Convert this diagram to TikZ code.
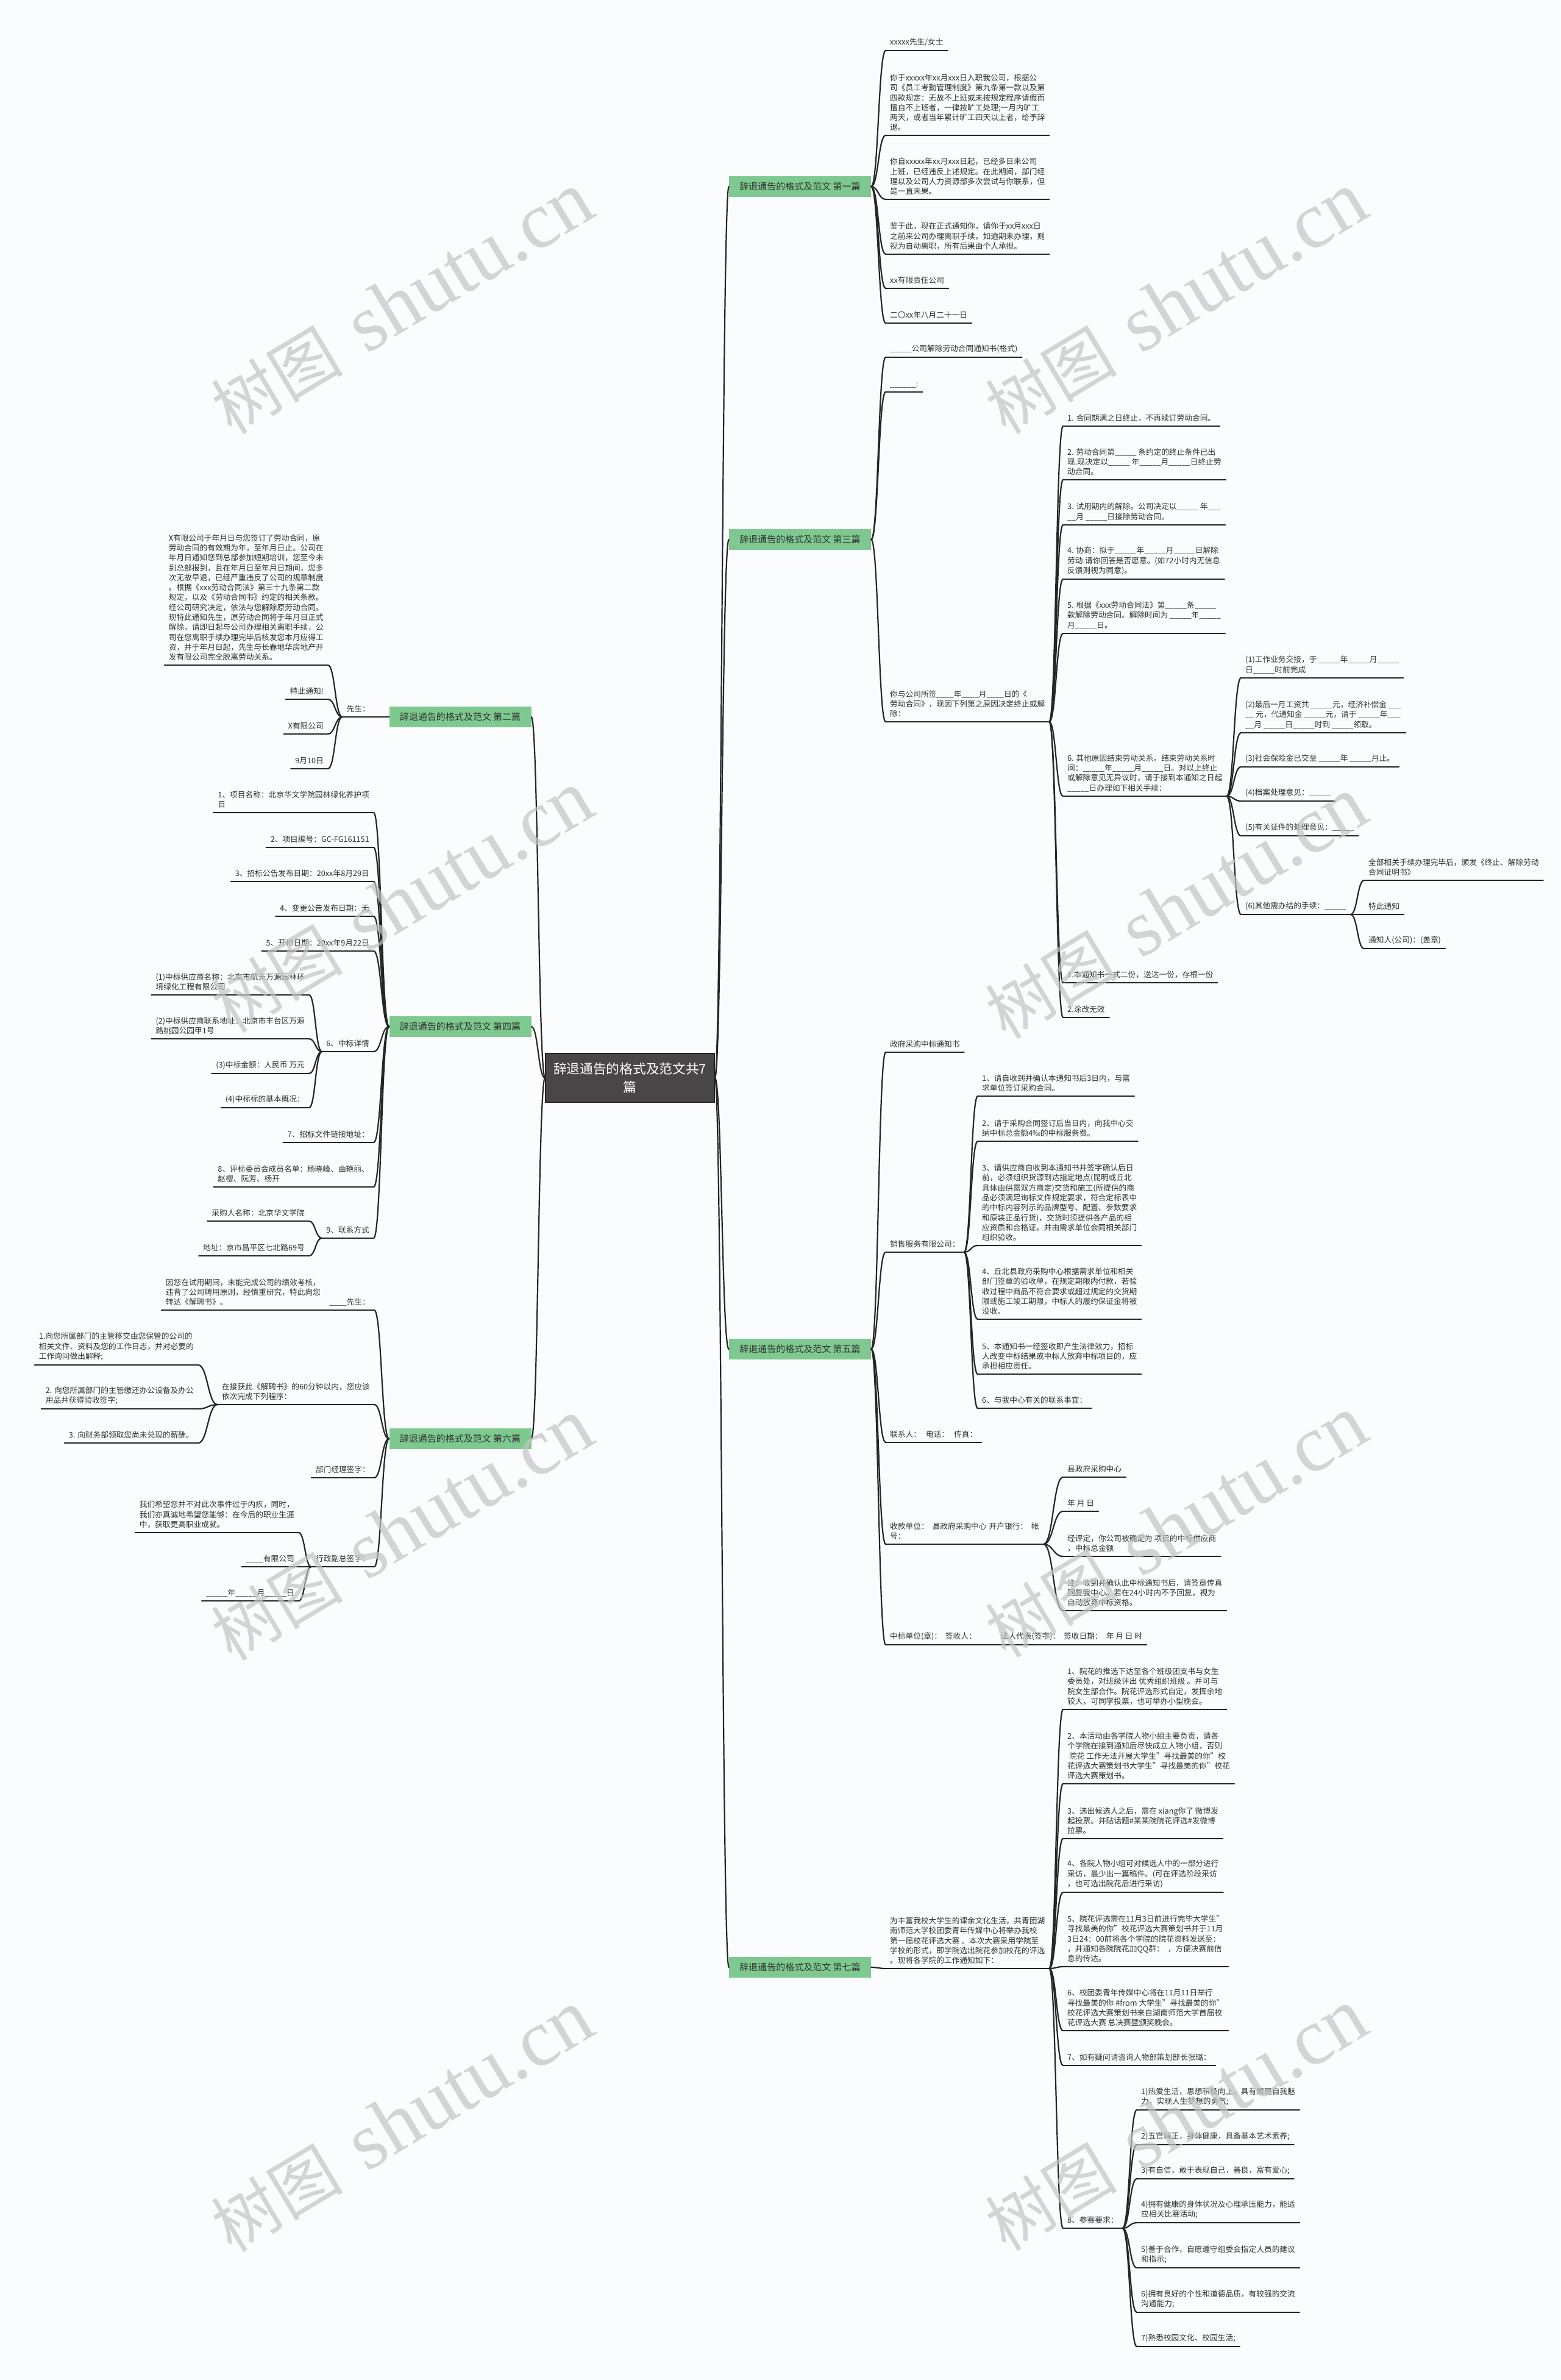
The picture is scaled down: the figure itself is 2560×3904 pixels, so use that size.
\documentclass[tikz,border=0pt]{standalone}
\usepackage{fontspec}
\setmainfont{Noto Sans CJK SC}
\newfontfamily\wmlat{Liberation Serif}
\usetikzlibrary{calc}
\definecolor{bgc}{RGB}{250,252,253}
\definecolor{lnc}{RGB}{38,38,38}
\definecolor{txc}{RGB}{48,48,48}
\definecolor{rootc}{RGB}{74,70,71}
\definecolor{grn}{RGB}{126,201,143}
\definecolor{wmc}{RGB}{196,196,196}
\tikzset{
  ln/.style={draw=lnc, line width=2.2pt, line cap=round},
  lf/.style={inner xsep=7pt, inner ysep=7pt, align=left, text=txc, font=\fontsize{12.7pt}{16.3pt}\selectfont},
  sec/.style={fill=grn, draw=none, minimum width=233pt, minimum height=34pt, inner sep=0pt, text=txc, font=\fontsize{15pt}{18pt}\selectfont},
  rootn/.style={fill=rootc, draw=black!85, line width=1.5pt, minimum width=277pt, minimum height=80pt, align=center, text=white, font=\fontsize{21.7pt}{30pt}\selectfont},
  wm/.style={text=wmc, opacity=0.7, rotate=31, inner sep=0pt}
}
\newcommand\conn[2]{\draw[ln] (#1) .. controls ($(#1)!.5!(#1-|#2)$) and ($(#2)!.5!(#2-|#1)$) .. (#2);}
\newcommand\rleaf[4]{\node[lf,anchor=south west] (#1) at (#2) {#4};\draw[ln] (#1.south west)--(#1.south east);\conn{#3}{#1.south west}}
\newcommand\lleaf[4]{\node[lf,anchor=south east] (#1) at (#2) {#4};\draw[ln] (#1.south west)--(#1.south east);\conn{#3}{#1.south east}}
\newcommand\wmtext{{\fontsize{108pt}{120pt}\selectfont 树图}\hspace{42pt}{\wmlat\fontsize{132pt}{140pt}\selectfont shutu.cn}}
\begin{document}
\begin{tikzpicture}[x=1pt,y=-1pt]
\fill[bgc] (0,0) rectangle (2560,3904);
\path[use as bounding box] (0,0) rectangle (2560,3904);

% root and sections
\node[rootn] (root) at (1033.5,1768) {辞退通告的格式及范文共7\\篇};
\node[sec] (s1) at (1312.5,306) {辞退通告的格式及范文 第一篇};
\node[sec] (s3) at (1312.5,885) {辞退通告的格式及范文 第三篇};
\node[sec] (s5) at (1312.5,2213) {辞退通告的格式及范文 第五篇};
\node[sec] (s7) at (1312.5,3227) {辞退通告的格式及范文 第七篇};
\node[sec] (s2) at (755,1176) {辞退通告的格式及范文 第二篇};
\node[sec] (s4) at (755,1684) {辞退通告的格式及范文 第四篇};
\node[sec] (s6) at (755,2360) {辞退通告的格式及范文 第六篇};
\conn{root.east}{s1.west}
\conn{root.east}{s3.west}
\conn{root.east}{s5.west}
\conn{root.east}{s7.west}
\conn{root.west}{s2.east}
\conn{root.west}{s4.east}
\conn{root.west}{s6.east}

% ---------- section 1
\rleaf{a1}{1453,83}{s1.east}{xxxxx先生/女士}
\rleaf{a2}{1453,222}{s1.east}{你于xxxxx年xx月xxx日入职我公司，根据公\\司《员工考勤管理制度》第九条第一款以及第\\四款规定：无故不上班或未按规定程序请假而\\擅自不上班者，一律按旷工处理;一月内旷工\\两天，或者当年累计旷工四天以上者，给予辞\\退。}
\rleaf{a3}{1453,327}{s1.east}{你自xxxxx年xx月xxx日起，已经多日未公司\\上班，已经违反上述规定。在此期间，部门经\\理以及公司人力资源部多次尝试与你联系，但\\是一直未果。}
\rleaf{a4}{1453,417}{s1.east}{鉴于此，现在正式通知你，请你于xx月xxx日\\之前来公司办理离职手续，如逾期未办理，则\\视为自动离职，所有后果由个人承担。}
\rleaf{a5}{1453,473}{s1.east}{xx有限责任公司}
\rleaf{a6}{1453,530}{s1.east}{二〇xx年八月二十一日}

% ---------- section 3
\rleaf{c1}{1453,586}{s3.east}{\_\_\_\_\_公司解除劳动合同通知书(格式)}
\rleaf{c2}{1453,643}{s3.east}{\_\_\_\_\_\_:}
\rleaf{c3}{1453,1184}{s3.east}{你与公司所签\_\_\_\_年\_\_\_\_月\_\_\_\_日的《\\劳动合同》，现因下列第之原因决定终止或解\\除：}
\rleaf{c31}{1744,699}{c3.south east}{1. 合同期满之日终止，不再续订劳动合同。}
\rleaf{c32}{1744,787}{c3.south east}{2. 劳动合同第\_\_\_\_\_ 条约定的终止条件已出\\现.现决定以\_\_\_\_\_ 年\_\_\_\_\_月\_\_\_\_\_日终止劳\\动合同。}
\rleaf{c33}{1744,861}{c3.south east}{3. 试用期内的解除。公司决定以\_\_\_\_\_ 年\_\_\_\\\_\_月 \_\_\_\_\_日接除劳动合同。}
\rleaf{c34}{1744,950}{c3.south east}{4. 协商：拟于\_\_\_\_\_年\_\_\_\_\_月\_\_\_\_\_日解除\\劳动.请你回答是否愿意。(如72小时内无信息\\反馈则视为同意)。}
\rleaf{c35}{1744,1039}{c3.south east}{5. 根据《xxx劳动合同法》第\_\_\_\_\_条\_\_\_\_\_\\款解除劳动合同。解除时间为 \_\_\_\_\_年\_\_\_\_\_\\月\_\_\_\_\_日。}
\rleaf{c36}{1744,1306}{c3.south east}{6. 其他原因结束劳动关系。结束劳动关系时\\间：\_\_\_\_\_年\_\_\_\_\_月\_\_\_\_\_日。对以上终止\\或解除意见无异议时，请于接到本通知之日起\\\_\_\_\_\_日办理如下相关手续：}
\rleaf{c37}{1744,1612}{c3.south east}{1.本通知书一式二份，送达一份，存根一份}
\rleaf{c38}{1744,1669}{c3.south east}{2.涂改无效}
\rleaf{c361}{2036,1112}{c36.south east}{(1)工作业务交接，于 \_\_\_\_\_年\_\_\_\_\_月\_\_\_\_\_\\日\_\_\_\_\_时前完成}
\rleaf{c362}{2036,1202}{c36.south east}{(2)最后一月工资共 \_\_\_\_\_元，经济补偿金 \_\_\_\\\_\_ 元，代通知金 \_\_\_\_\_元，请于 \_\_\_\_\_年\_\_\_\\\_\_月 \_\_\_\_\_日\_\_\_\_\_时到 \_\_\_\_\_领取。}
\rleaf{c363}{2036,1258}{c36.south east}{(3)社会保险金已交至 \_\_\_\_\_年 \_\_\_\_\_月止。}
\rleaf{c364}{2036,1314}{c36.south east}{(4)档案处理意见：\_\_\_\_\_}
\rleaf{c365}{2036,1371}{c36.south east}{(5)有关证件的处理意见：\_\_\_\_\_}
\rleaf{c366}{2036,1500}{c36.south east}{(6)其他需办结的手续：\_\_\_\_\_}
\rleaf{c3661}{2238,1444}{c366.south east}{全部相关手续办理完毕后，颁发《终止、解除劳动\\合同证明书》}
\rleaf{c3662}{2238,1500}{c366.south east}{特此通知}
\rleaf{c3663}{2238,1556}{c366.south east}{通知人(公司)：(盖章)}

% ---------- section 5
\rleaf{e1}{1453,1726}{s5.east}{政府采购中标通知书}
\rleaf{e2}{1453,2054}{s5.east}{销售服务有限公司：}
\rleaf{e21}{1604,1798}{e2.south east}{1、请自收到并确认本通知书后3日内，与需\\求单位签订采购合同。}
\rleaf{e22}{1604,1872}{e2.south east}{2、请于采购合同签订后当日内，向我中心交\\纳中标总金额4‰的中标服务费。}
\rleaf{e23}{1604,2043}{e2.south east}{3、请供应商自收到本通知书并签字确认后日\\前，必须组织货源到达指定地点(昆明或丘北\\具体由供需双方商定)交货和施工(所提供的商\\品必须满足询标文件规定要求，符合定标表中\\的中标内容列示的品牌型号、配置、参数要求\\和原装正品行货)，交货时须提供各产品的相\\应资质和合格证。并由需求单位会同相关部门\\组织验收。}
\rleaf{e24}{1604,2164}{e2.south east}{4、丘北县政府采购中心根据需求单位和相关\\部门签章的验收单，在规定期限内付款，若验\\收过程中商品不符合要求或超过规定的交货期\\限或施工竣工期限，中标人的履约保证金将被\\没收。}
\rleaf{e25}{1604,2254}{e2.south east}{5、本通知书一经签收即产生法律效力，招标\\人改变中标结果或中标人放弃中标项目的，应\\承担相应责任。}
\rleaf{e26}{1604,2310}{e2.south east}{6、与我中心有关的联系事宜：}
\rleaf{e3}{1453,2366}{s5.east}{联系人：\hspace{8pt}电话：\hspace{8pt}传真：}
\rleaf{e4}{1453,2533}{s5.east}{收款单位：\hspace{6pt}县政府采购中心\hspace{4pt}开户银行：\hspace{6pt}帐\\号：}
\rleaf{e41}{1744,2423}{e4.south east}{县政府采购中心}
\rleaf{e42}{1744,2479}{e4.south east}{年 月 日}
\rleaf{e43}{1744,2553}{e4.south east}{经评定，你公司被确定为 项目的中标供应商\\，中标总金额}
\rleaf{e44}{1744,2642}{e4.south east}{注：收到并确认此中标通知书后，请签章传真\\回复我中心。若在24小时内不予回复，视为\\自动放弃中标资格。}
\rleaf{e5}{1453,2698}{s5.east}{中标单位(章)：\hspace{6pt}签收人：\hspace{40pt}法人代表(签字)：\hspace{6pt}签收日期：\hspace{6pt}年 月 日 时}

% ---------- section 7
\rleaf{g0}{1453,3229}{s7.east}{为丰富我校大学生的课余文化生活，共青团湖\\南师范大学校团委青年传媒中心将举办我校\\第一届校花评选大赛 。本次大赛采用学院至\\学校的形式，即学院选出院花参加校花的评选\\。现将各学院的工作通知如下：}
\rleaf{g1}{1744,2804}{g0.south east}{1、院花的推选下达至各个班级团支书与女生\\委员处，对班级评出 优秀组织班级 。并可与\\院女生部合作。院花评选形式自定，发挥余地\\较大，可同学投票，也可举办小型晚会。}
\rleaf{g2}{1744,2926}{g0.south east}{2、本活动由各学院人物小组主要负责，请各\\个学院在接到通知后尽快成立人物小组，否则\\\hspace*{3pt}院花 工作无法开展大学生"寻找最美的你"校\\花评选大赛策划书大学生"寻找最美的你"校花\\评选大赛策划书。}
\rleaf{g3}{1744,3016}{g0.south east}{3、选出候选人之后，需在 xiang你了 微博发\\起投票。并贴话题\#某某院院花评选\#发微博\\拉票。}
\rleaf{g4}{1744,3104}{g0.south east}{4、各院人物小组可对候选人中的一部分进行\\采访，最少出一篇稿件。(可在评选阶段采访\\，也可选出院花后进行采访)}
\rleaf{g5}{1744,3226}{g0.south east}{5、院花评选需在11月3日前进行完毕大学生"\\寻找最美的你"校花评选大赛策划书并于11月\\3日24：00前将各个学院的院花资料发送至：\\，并通知各院院花加QQ群：\hspace{6pt}，方便决赛前信\\息的传达。}
\rleaf{g6}{1744,3331}{g0.south east}{6、校团委青年传媒中心将在11月11日举行\\寻找最美的你 \#from 大学生"寻找最美的你"\\校花评选大赛策划书来自湖南师范大学首届校\\花评选大赛 总决赛暨颁奖晚会。}
\rleaf{g7}{1744,3388}{g0.south east}{7、如有疑问请咨询人物部策划部长张璐：}
\rleaf{g8}{1744,3655}{g0.south east}{8、参赛要求：}
\rleaf{g81}{1865,3461}{g8.south east}{1)热爱生活，思想积极向上，具有展现自我魅\\力，实现人生梦想的勇气;}
\rleaf{g82}{1865,3518}{g8.south east}{2)五官端正，身体健康，具备基本艺术素养;}
\rleaf{g83}{1865,3574}{g8.south east}{3)有自信，敢于表现自己，善良，富有爱心;}
\rleaf{g84}{1865,3646}{g8.south east}{4)拥有健康的身体状况及心理承压能力，能适\\应相关比赛活动;}
\rleaf{g85}{1865,3720}{g8.south east}{5)善于合作，自愿遵守组委会指定人员的建议\\和指示;}
\rleaf{g86}{1865,3793}{g8.south east}{6)拥有良好的个性和道德品质，有较强的交流\\沟通能力;}
\rleaf{g87}{1865,3849}{g8.south east}{7)熟悉校园文化、校园生活;}

% ---------- section 2 (left)
\lleaf{b0}{638,1176}{s2.west}{先生：\kern24pt}
\lleaf{b1}{538,1091}{b0.south west}{X有限公司于年月日与您签订了劳动合同，原\\劳动合同的有效期为年，至年月日止。公司在\\年月日通知您到总部参加短期培训，您至今未\\到总部报到，且在年月日至年月日期间，您多\\次无故早退，已经严重违反了公司的规章制度\\。根据《xxx劳动合同法》第三十九条第二款\\规定，以及《劳动合同书》约定的相关条款。\\经公司研究决定，依法与您解除原劳动合同。\\现特此通知先生，原劳动合同将于年月日正式\\解除，请即日起与公司办理相关离职手续，公\\司在您离职手续办理完毕后核发您本月应得工\\资，并于年月日起，先生与长春地华房地产开\\发有限公司完全脱离劳动关系。}
\lleaf{b2}{538,1147}{b0.south west}{特此通知!}
\lleaf{b3}{538,1204}{b0.south west}{X有限公司}
\lleaf{b4}{538,1261}{b0.south west}{9月10日}

% ---------- section 4 (left)
\lleaf{d1}{613,1333}{s4.west}{1、项目名称：北京华文学院园林绿化养护项\\目}
\lleaf{d2}{613,1390}{s4.west}{2、项目编号：GC-FG161151}
\lleaf{d3}{613,1446}{s4.west}{3、招标公告发布日期：20xx年8月29日}
\lleaf{d4}{613,1503}{s4.west}{4、变更公告发布日期：无}
\lleaf{d5}{613,1560}{s4.west}{5、开标日期：20xx年9月22日}
\lleaf{d6}{613,1725}{s4.west}{6、中标详情}
\lleaf{d61}{507,1632}{d6.south west}{(1)中标供应商名称：北京市航天万源园林环\\境绿化工程有限公司}
\lleaf{d62}{507,1704}{d6.south west}{(2)中标供应商联系地址：北京市丰台区万源\\路桃园公园甲1号}
\lleaf{d63}{507,1761}{d6.south west}{(3)中标金额：人民币 万元}
\lleaf{d64}{507,1817}{d6.south west}{(4)中标标的基本概况：}
\lleaf{d7}{613,1874}{s4.west}{7、招标文件链接地址：}
\lleaf{d8}{613,1947}{s4.west}{8、评标委员会成员名单：杨晓峰、曲艳丽、\\赵樱、阮芳、杨开}
\lleaf{d9}{613,2031}{s4.west}{9、联系方式}
\lleaf{d91}{507,2003}{d9.south west}{采购人名称：北京华文学院}
\lleaf{d92}{507,2060}{d9.south west}{地址：京市昌平区七北路69号}

% ---------- section 6 (left)
\lleaf{f1}{614,2149}{s6.west}{\_\_\_\_先生：}
\lleaf{f1a}{f1.south west}{f1.south west}{因您在试用期间，未能完成公司的绩效考核，\\违背了公司聘用原则，经慎重研究，特此向您\\转达《解聘书》。}
\lleaf{f2}{614,2304}{s6.west}{在接获此《解聘书》的60分钟以内，您应该\\依次完成下列程序：}
\lleaf{f21}{325,2239}{f2.south west}{1.向您所属部门的主管移交由您保管的公司的\\相关文件、资料及您的工作日志，并对必要的\\工作询问做出解释;}
\lleaf{f22}{325,2311}{f2.south west}{2. 向您所属部门的主管缴还办公设备及办公\\用品并获得验收签字;}
\lleaf{f23}{325,2367}{f2.south west}{3. 向财务部领取您尚未兑现的薪酬。}
\lleaf{f3}{614,2424}{s6.west}{部门经理签字：}
\lleaf{f4}{614,2570}{s6.west}{行政副总签字：}
\lleaf{f41}{490,2514}{f4.south west}{我们希望您并不对此次事件过于内疚，同时，\\我们亦真诚地希望您能够：在今后的职业生涯\\中，获取更高职业成就。}
\lleaf{f42}{490,2570}{f4.south west}{\_\_\_\_有限公司}
\lleaf{f43}{490,2626}{f4.south west}{\_\_\_\_\_年\_\_\_\_\_月\_\_\_\_\_日}

% ---------- watermarks
\node[wm] (w1) at (660,498) {\wmtext};
\node[wm] (w2) at (1930,498) {\wmtext};
\node[wm] (w3) at (660,1480) {\wmtext};
\node[wm] (w4) at (1930,1490) {\wmtext};
\node[wm] (w5) at (660,2510) {\wmtext};
\node[wm] (w6) at (1930,2505) {\wmtext};
\node[wm] (w7) at (660,3480) {\wmtext};
\node[wm] (w8) at (1930,3478) {\wmtext};
\end{tikzpicture}
\end{document}
